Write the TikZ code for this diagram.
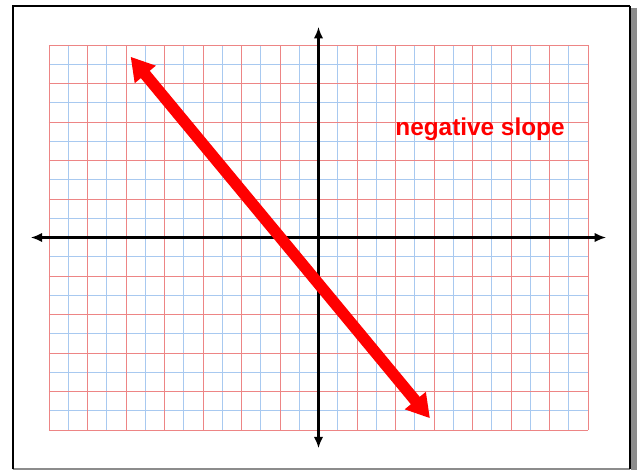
\documentclass[tikz,border=0pt]{standalone}
\usepackage{fontspec}
\newfontfamily\labelfont{Liberation Sans}
\usetikzlibrary{arrows.meta,calc}
\usepackage{tkz-euclide}
\definecolor{RedGridClr}{rgb}{0.93,0.52,0.52}
\definecolor{BlueGridClr}{rgb}{0.66,0.79,0.94}
\definecolor{ShadowClr}{rgb}{0.55,0.55,0.55}

\begin{document}
\begin{tikzpicture}[scale=.5]
\useasboundingbox (-16.545,-12.078) rectangle (16.701,12.338);

\tkzDefPoints{0/0/O,-14/-10/G1,14/10/G2}
\tkzDefPoints{-14.95/0/X1,14.94/0/X2,0/-10.95/Y1,0/10.94/Y2}
\tkzDefPoints{-9.76/9.39/L1,5.79/-9.39/L2}
\tkzDefPoints{-15.88/12.03/F1,16.18/12.03/F2,16.18/-12.05/F3,-15.88/-12.05/F4}
\tkzDefPoints{16.39/11.93/S1,16.39/-12.08/S2,-15.88/-12.05/S3}

% page frame
\draw[ShadowClr,line width=4.4pt] (S1) -- (S2);
\draw[ShadowClr,line width=1.5pt] (S3) -- (F3);
\draw[black,line width=1.9pt] (F4) -- (F1) -- (F2);
\draw[black,line width=0.8pt] (F2) -- (F3);

% graph paper
\draw[BlueGridClr,line width=0.7pt,step=1] (G1) grid (G2);
\draw[RedGridClr,line width=0.7pt,step=2] (G1) grid (G2);

% axes
\tkzDrawSegments[line width=1.5pt,color=black,{Latex[length=8.5pt,width=7pt]}-{Latex[length=8.5pt,width=7pt]}](X1,X2 Y1,Y2)

% the line
\tkzDrawSegment[line width=8.5pt,color=red,{Triangle[length=17pt,width=19pt]}-{Triangle[length=17pt,width=19pt]}](L1,L2)

\node[anchor=base,text=red,font=\labelfont\bfseries\fontsize{18}{20}\selectfont,inner sep=0pt] (slope) at (8.39,5.32) {negative slope};

\end{tikzpicture}
\end{document}
